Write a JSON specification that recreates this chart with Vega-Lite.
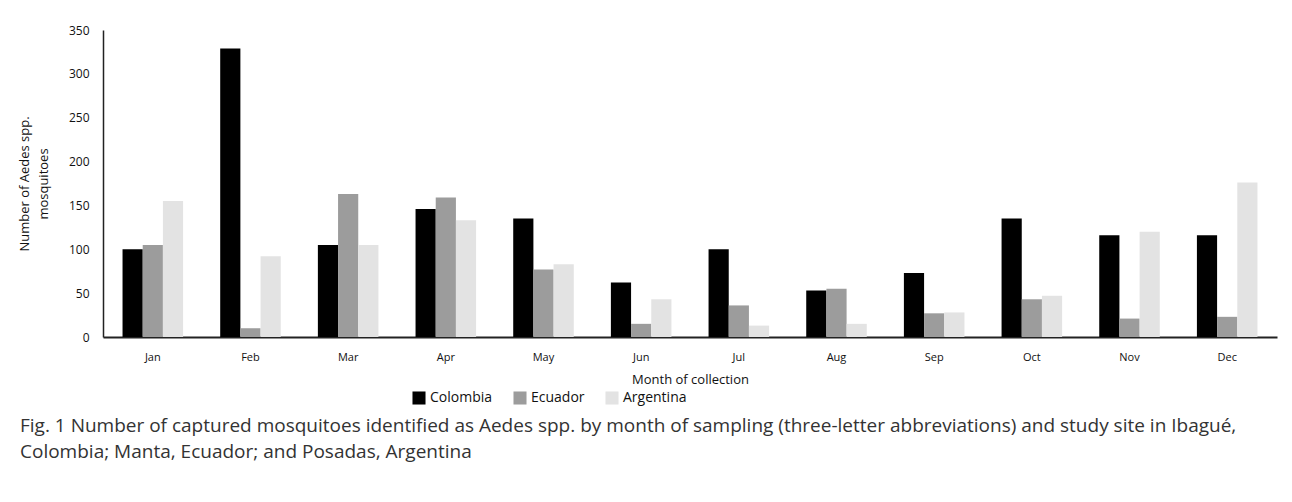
{
  "$schema": "https://vega.github.io/schema/vega-lite/v6.json",
  "autosize": {"type": "none"},
  "width": 1174,
  "height": 307,
  "padding": {"left": 103, "top": 30, "right": 15, "bottom": 165},
  "background": "white",
  "data": {
    "values": [
      {"month": "Jan", "site": "Colombia", "n": 100}, {"month": "Jan", "site": "Ecuador", "n": 105}, {"month": "Jan", "site": "Argentina", "n": 155},
      {"month": "Feb", "site": "Colombia", "n": 329}, {"month": "Feb", "site": "Ecuador", "n": 10}, {"month": "Feb", "site": "Argentina", "n": 92},
      {"month": "Mar", "site": "Colombia", "n": 105}, {"month": "Mar", "site": "Ecuador", "n": 163}, {"month": "Mar", "site": "Argentina", "n": 105},
      {"month": "Apr", "site": "Colombia", "n": 146}, {"month": "Apr", "site": "Ecuador", "n": 159}, {"month": "Apr", "site": "Argentina", "n": 133},
      {"month": "May", "site": "Colombia", "n": 135}, {"month": "May", "site": "Ecuador", "n": 77}, {"month": "May", "site": "Argentina", "n": 83},
      {"month": "Jun", "site": "Colombia", "n": 62}, {"month": "Jun", "site": "Ecuador", "n": 15}, {"month": "Jun", "site": "Argentina", "n": 43},
      {"month": "Jul", "site": "Colombia", "n": 100}, {"month": "Jul", "site": "Ecuador", "n": 36}, {"month": "Jul", "site": "Argentina", "n": 13},
      {"month": "Aug", "site": "Colombia", "n": 53}, {"month": "Aug", "site": "Ecuador", "n": 55}, {"month": "Aug", "site": "Argentina", "n": 15},
      {"month": "Sep", "site": "Colombia", "n": 73}, {"month": "Sep", "site": "Ecuador", "n": 27}, {"month": "Sep", "site": "Argentina", "n": 28},
      {"month": "Oct", "site": "Colombia", "n": 135}, {"month": "Oct", "site": "Ecuador", "n": 43}, {"month": "Oct", "site": "Argentina", "n": 47},
      {"month": "Nov", "site": "Colombia", "n": 116}, {"month": "Nov", "site": "Ecuador", "n": 21}, {"month": "Nov", "site": "Argentina", "n": 120},
      {"month": "Dec", "site": "Colombia", "n": 116}, {"month": "Dec", "site": "Ecuador", "n": 23}, {"month": "Dec", "site": "Argentina", "n": 176}
    ]
  },
  "title": {
    "text": ["Fig. 1  Number of captured mosquitoes identified as Aedes spp. by month of sampling (three-letter abbreviations) and study site in Ibagué,", "Colombia; Manta, Ecuador; and Posadas, Argentina"],
    "orient": "bottom",
    "anchor": "start",
    "frame": "group",
    "dx": -83,
    "offset": 12,
    "font": "Open Sans",
    "fontSize": 19,
    "fontWeight": "normal",
    "color": "#333",
    "lineHeight": 26
  },
  "mark": {"type": "bar"},
  "encoding": {
    "x": {
      "field": "month", "type": "nominal", "sort": null,
      "scale": {"paddingInner": 0.38, "paddingOuter": 0.2},
      "axis": {
        "title": "Month of collection", "labelAngle": 0, "ticks": false,
        "domainColor": "#222", "domainWidth": 2,
        "labelFont": "Open Sans", "labelFontSize": 11, "labelColor": "#111", "labelPadding": 14,
        "titleFont": "Open Sans", "titleFontSize": 13, "titleFontWeight": "normal", "titleColor": "#111", "titlePadding": 11
      }
    },
    "xOffset": {"field": "site", "type": "nominal", "sort": ["Colombia", "Ecuador", "Argentina"], "scale": {"paddingInner": 0, "paddingOuter": 0}},
    "y": {
      "field": "n", "type": "quantitative",
      "scale": {"domain": [0, 350]},
      "axis": {
        "title": ["Number of Aedes spp.", "mosquitoes"], "values": [0, 50, 100, 150, 200, 250, 300, 350],
        "grid": false, "ticks": false, "domainColor": "#222", "domainWidth": 1.5,
        "labelFont": "Open Sans", "labelFontSize": 12, "labelColor": "#111", "labelPadding": 14,
        "titleFont": "Open Sans", "titleFontSize": 13, "titleFontWeight": "normal", "titleColor": "#111", "titlePadding": 18, "titleLineHeight": 19
      }
    },
    "color": {
      "field": "site", "type": "nominal",
      "sort": ["Colombia", "Ecuador", "Argentina"],
      "scale": {"domain": ["Colombia", "Ecuador", "Argentina"], "range": ["#000000", "#9c9c9c", "#e3e3e3"]},
      "legend": {
        "title": null, "orient": "none", "direction": "horizontal",
        "legendX": 309, "legendY": 361,
        "symbolType": "square", "symbolSize": 170, "symbolStrokeWidth": 0, "symbolOffset": 0,
        "labelFont": "Open Sans", "labelFontSize": 14, "labelColor": "#111", "labelOffset": 4,
        "columnPadding": 20
      }
    }
  },
  "config": {"view": {"stroke": null}}
}
